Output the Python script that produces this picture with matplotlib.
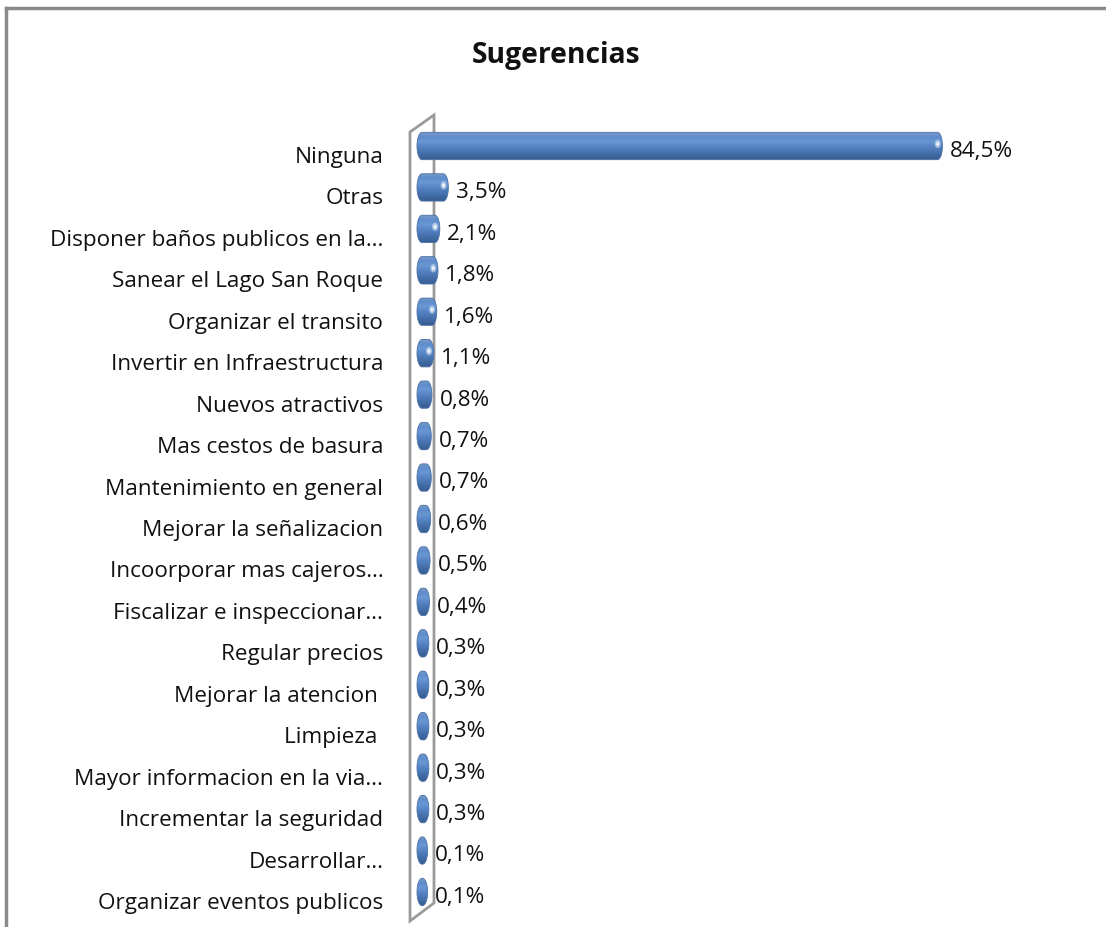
import numpy as np
import matplotlib
matplotlib.use("Agg")
import matplotlib.pyplot as plt
import matplotlib.transforms as mtransforms
from matplotlib.path import Path
from matplotlib.patches import PathPatch, Polygon, Ellipse
from matplotlib.lines import Line2D
from matplotlib.colors import LinearSegmentedColormap

plt.rcParams['font.family'] = ['Open Sans', 'DejaVu Sans']

categories = [
    "Ninguna", "Otras", "Disponer baños publicos en la…", "Sanear el Lago San Roque",
    "Organizar el transito", "Invertir en Infraestructura", "Nuevos atractivos",
    "Mas cestos de basura", "Mantenimiento en general", "Mejorar la señalizacion",
    "Incoorporar mas cajeros…", "Fiscalizar e inspeccionar…", "Regular precios",
    "Mejorar la atencion ", "Limpieza ", "Mayor informacion en la via…",
    "Incrementar la seguridad", "Desarrollar…", "Organizar eventos publicos",
]
values = [84.5, 3.5, 2.1, 1.8, 1.6, 1.1, 0.8, 0.7, 0.7, 0.6, 0.5, 0.4,
          0.3, 0.3, 0.3, 0.3, 0.3, 0.1, 0.1]
value_labels = [f"{v:.1f}".replace(".", ",") + "%" for v in values]
title = "Sugerencias"

W, H = 1106, 928
fig = plt.figure(figsize=(W / 100, H / 100), dpi=100)

def fx(px):
    return px / W

def fy(py):
    return 1 - py / H

# axes placement (pixels)
zero_px = 422
ax_left, ax_right = 400, 1022
row0, rowN = 147, 893
nrows = len(values)
step = (rowN - row0) / (nrows - 1)
ax_top = row0 - step / 2
ax_bot = rowN + step / 2
ax = fig.add_axes([fx(ax_left), fy(ax_bot), fx(ax_right - ax_left), (ax_bot - ax_top) / H])
pxper = 6.1
xmin = -(zero_px - ax_left) / pxper
xmax = (ax_right - zero_px) / pxper
ax.set_xlim(xmin, xmax)
ax.set_ylim(nrows - 0.5, -0.5)
ax.set_facecolor('none')
for s in ax.spines.values():
    s.set_visible(False)
ax.set_xticks([])
ax.set_yticks(range(nrows))
ax.set_yticklabels(categories, fontsize=16.2, color='#111111')
ax.tick_params(axis='y', length=0, pad=12)
shift = mtransforms.ScaledTranslation(0, -8 / 100, fig.dpi_scale_trans)
for lab in ax.get_yticklabels():
    lab.set_transform(lab.get_transform() + shift)

# wall (3D side plane)
wall = Polygon([(fx(410), fy(133)), (fx(434), fy(116)), (fx(434), fy(904)), (fx(410), fy(922))],
               closed=True, transform=fig.transFigure, facecolor='white',
               edgecolor='#9a9a9a', linewidth=2.0, zorder=0)
fig.add_artist(wall)

# chart border (top and left)
fig.add_artist(Line2D([fx(6), fx(1106)], [fy(9), fy(9)], transform=fig.transFigure,
                      color='#8a8a8a', linewidth=2.5))
fig.add_artist(Line2D([fx(6), fx(6)], [fy(9), fy(928)], transform=fig.transFigure,
                      color='#8a8a8a', linewidth=2.5))

cmap = LinearSegmentedColormap.from_list(
    'cyl', ['#7d9cc8', '#5e8ccc', '#6a98d4', '#5886c6', '#4b78b5', '#3f69a2', '#385f93'])
grad = cmap(np.linspace(0, 1, 64))[:, None, :3]

hw = 5.0 / pxper
h = 0.33
for i, v in enumerate(values):
    x0, x1 = 0.0, v
    t1 = np.linspace(-np.pi / 2, np.pi / 2, 40)
    t2 = np.linspace(np.pi / 2, 3 * np.pi / 2, 40)
    right = np.column_stack([x1 + hw * np.cos(t1), i + h * np.sin(t1)])
    left = np.column_stack([x0 + hw * np.cos(t2), i + h * np.sin(t2)])
    verts = np.vstack([right, left, right[:1]])
    codes = [Path.MOVETO] + [Path.LINETO] * (len(verts) - 2) + [Path.CLOSEPOLY]
    patch = PathPatch(Path(verts, codes), facecolor='none', edgecolor='#4a70a5',
                      linewidth=0.6, transform=ax.transData, zorder=3)
    ax.add_patch(patch)
    im = ax.imshow(grad, extent=(x0 - hw, x1 + hw, i + h, i - h), aspect='auto',
                   origin='upper', zorder=2, interpolation='bilinear')
    im.set_clip_path(patch)
    if v > 1:
        ax.add_patch(Ellipse((x1 + hw * 0.05, i - 0.05), width=6 / pxper, height=0.2,
                             facecolor='white', alpha=0.45, edgecolor='none', zorder=4))
        ax.add_patch(Ellipse((x1 + hw * 0.05, i - 0.05), width=3 / pxper, height=0.1,
                             facecolor='white', alpha=0.8, edgecolor='none', zorder=4))
    ax.annotate(value_labels[i], xy=(v, i), xytext=(9.0, -3.2), textcoords='offset points',
                va='center', ha='left', fontsize=16.2, color='#111111')

ax.set_xlim(xmin, xmax)
ax.set_ylim(nrows - 0.5, -0.5)

fig.text(fx(556), fy(55), title, ha='center', va='center', fontsize=20.3,
         fontweight='bold', color='#111111')

fig.savefig('out.png', dpi=100, facecolor='white')
